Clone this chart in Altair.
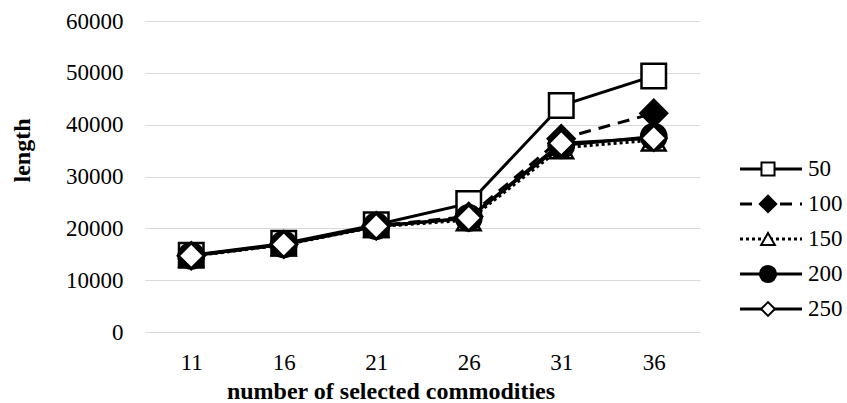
import altair as alt
import pandas as pd

# ---- data ----
commodities = [11, 16, 21, 26, 31, 36]
series_names = ["50", "100", "150", "200", "250"]
len_50 = [14800, 17100, 20700, 24800, 43700, 49400]
len_100 = [14700, 16900, 20500, 22300, 37300, 42200]
len_150 = [14600, 16800, 20300, 21600, 35500, 37000]
len_200 = [14700, 16900, 20400, 22000, 36000, 37700]
len_250 = [14700, 16900, 20400, 22000, 36400, 37400]
y_ticks = [0, 10000, 20000, 30000, 40000, 50000, 60000]

values = {"50": len_50, "100": len_100, "150": len_150, "200": len_200, "250": len_250}
rows = []
for s in series_names:
    for c, v in zip(commodities, values[s]):
        rows.append({"commodities": c, "series": s, "length": v})
df = pd.DataFrame(rows)
legend_df = pd.DataFrame({"series": series_names, "rank": list(range(len(series_names)))})

# ---- styles ----
FONT = "Liberation Serif, Times New Roman, serif"
styles = {
    "50": dict(dash=None, shape="square", fill="white", size=600, lsize=170),
    "100": dict(dash=[12, 8], shape="diamond", fill="black", size=720, lsize=270),
    "150": dict(dash=[3, 3], shape="triangle-up", fill="white", size=560, lsize=190),
    "200": dict(dash=None, shape="circle", fill="black", size=640, lsize=260),
    "250": dict(dash=None, shape="diamond", fill="white", size=640, lsize=190),
}

x_enc = alt.X(
    "commodities:O",
    scale=alt.Scale(type="point", padding=0.5),
    axis=alt.Axis(
        labelFont=FONT, labelFontSize=23, labelColor="black", labelAngle=0,
        ticks=False, domain=False, grid=False, labelPadding=19,
        title="number of selected commodities", titleFont=FONT, titleFontSize=24,
        titleFontWeight="bold", titleColor="black", titleX=245.5, titleY=66,
        titleBaseline="alphabetic", titleAlign="center",
    ),
)
y_enc = alt.Y(
    "length:Q",
    scale=alt.Scale(domain=[0, 60000], nice=False),
    axis=alt.Axis(
        values=y_ticks, format="d", grid=True, gridColor="#d9d9d9", gridWidth=1.2,
        domain=False, ticks=False, labelPadding=22, labelFont=FONT,
        labelFontSize=23, labelColor="black", labelFlush=False, labelOverlap=False,
        title="length", titleFont=FONT, titleFontSize=24, titleFontWeight="bold",
        titleColor="black", titleX=-123, titleY=129, titleAngle=-90,
        titleBaseline="middle", titleAlign="center",
    ),
)

base = alt.Chart(df)
main_layers = []
for s in series_names:
    st = styles[s]
    line_kw = dict(color="black", strokeWidth=3, strokeCap="butt")
    if st["dash"]:
        line_kw["strokeDash"] = st["dash"]
    main_layers.append(
        base.transform_filter(alt.datum.series == s)
        .mark_line(**line_kw)
        .encode(x=x_enc, y=y_enc)
    )
    main_layers.append(
        base.transform_filter(alt.datum.series == s)
        .mark_point(shape=st["shape"], fill=st["fill"], stroke="black",
                    strokeWidth=2.5, size=st["size"], opacity=1, fillOpacity=1)
        .encode(x=x_enc, y=y_enc)
    )
main = alt.layer(*main_layers)

# ---- manual legend ----
leg_y = alt.Y("rank:Q", scale=alt.Scale(domain=[-4.228, 4.657], reverse=True,
                                         nice=False, zero=False), axis=None)
lbase = alt.Chart(legend_df)
legend_layers = []
for s in series_names:
    st = styles[s]
    rule_kw = dict(color="black", strokeWidth=3, strokeCap="butt")
    if st["dash"]:
        rule_kw["strokeDash"] = st["dash"]
    sub = lbase.transform_filter(alt.datum.series == s)
    legend_layers.append(
        sub.mark_rule(**rule_kw).encode(x=alt.value(595), x2=alt.value(657), y=leg_y)
    )
    legend_layers.append(
        sub.mark_point(shape=st["shape"], fill=st["fill"], stroke="black",
                       strokeWidth=2, size=st["lsize"], opacity=1, fillOpacity=1)
        .encode(x=alt.value(623), y=leg_y)
    )
legend_layers.append(
    lbase.mark_text(align="left", baseline="middle", font=FONT, fontSize=23,
                    color="black")
    .encode(x=alt.value(663), y=leg_y, text="series:N")
)
legend = alt.layer(*legend_layers)

chart = (
    alt.layer(main, legend)
    .resolve_scale(y="independent")
    .properties(
        width=555, height=311,
        autosize=alt.AutoSizeParams(type="none"),
        padding={"left": 145, "top": 21, "right": 147, "bottom": 71},
        background="white",
    )
    .configure_view(stroke=None)
)

chart.save("out.html", embed_options={"renderer": "svg", "actions": False})
